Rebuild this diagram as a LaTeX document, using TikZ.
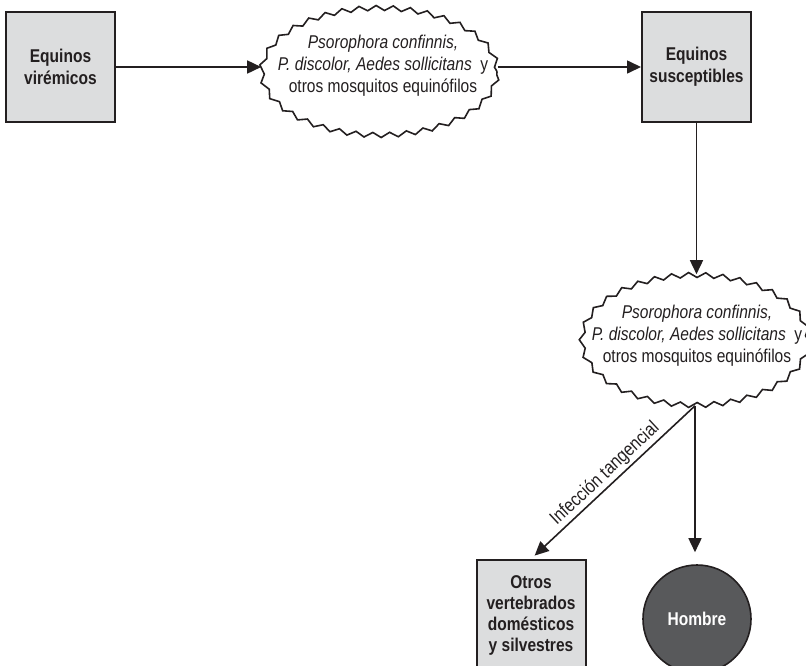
\documentclass[tikz,border=0pt]{standalone}
\usepackage{fontspec}
\setmainfont{Liberation Sans}[FakeStretch=0.84]
\usetikzlibrary{shapes.geometric,decorations.pathmorphing,arrows.meta}

\definecolor{ink}{HTML}{231F20}
\definecolor{boxgray}{HTML}{DCDDDE}
\definecolor{humangray}{HTML}{58595B}

\tikzset{
  hostbox/.style={draw=ink, line width=2pt, fill=boxgray, text=ink,
    minimum width=109pt, minimum height=110pt, inner sep=0pt, align=center,
    font=\bfseries\fontsize{18.5}{22}\selectfont},
  vector/.style={ellipse, draw=ink, line width=1.6pt, fill=white, inner sep=0pt,
    decorate, decoration={zigzag, segment length=17pt, amplitude=2.5pt}},
  vectortext/.style={align=center, text=ink, font=\fontsize{18.5}{22}\selectfont},
  humannode/.style={circle, draw=ink, line width=1.6pt, fill=humangray,
    minimum size=108pt, inner sep=0pt, text=white,
    font=\bfseries\fontsize{18.5}{22}\selectfont},
  link/.style={draw=ink, line width=1.6pt, -{Triangle[length=14pt,width=13pt]}},
  linklabel/.style={text=ink, font=\fontsize{19}{22}\selectfont, inner sep=2pt}
}

\newcommand{\vectorlist}{\textit{Psorophora confinnis,}\\
  \textit{P. discolor, Aedes sollicitans}\ \ y\\
  otros mosquitos equinófilos}

\begin{document}
\begin{tikzpicture}[x=1pt,y=-1pt]
  \useasboundingbox (0,0) rectangle (806,665);

  % hosts and vectors
  \node[hostbox] (viremic) at (60.5,67) {Equinos\\virémicos};
  \node[vector, minimum width=235pt, minimum height=127pt] (vec1) at (379.5,71.5) {};
  \node[vectortext] (vec1txt) at (383,66) {\vectorlist};
  \node[hostbox] (suscept) at (696.5,67) {Equinos\\susceptibles};
  \node[vector, minimum width=226pt, minimum height=130pt] (vec2) at (695,340) {};
  \node[vectortext] (vec2txt) at (697,336) {\vectorlist};
  \node[hostbox, font=\bfseries\fontsize{18.5}{21}\selectfont] (others) at (531,615)
    {Otros\\vertebrados\\domésticos\\y silvestres};
  \node[humannode] (human) at (697,619) {Hombre};

  % transmission paths
  \draw[link] (viremic.east) -- (viremic.east -| vec1.west);
  \draw[link] (vec1.east |- suscept.west) -- (suscept.west);
  \draw[link] (suscept.south) -- (suscept.south |- vec2.north);
  \draw[link, shorten >=5pt] (vec2.south) --
    node[linklabel, sloped, above] {Infección tangencial} (others.north);
  \draw[link, shorten >=12pt] (vec2.south) -- (vec2.south |- human.north);
\end{tikzpicture}
\end{document}
